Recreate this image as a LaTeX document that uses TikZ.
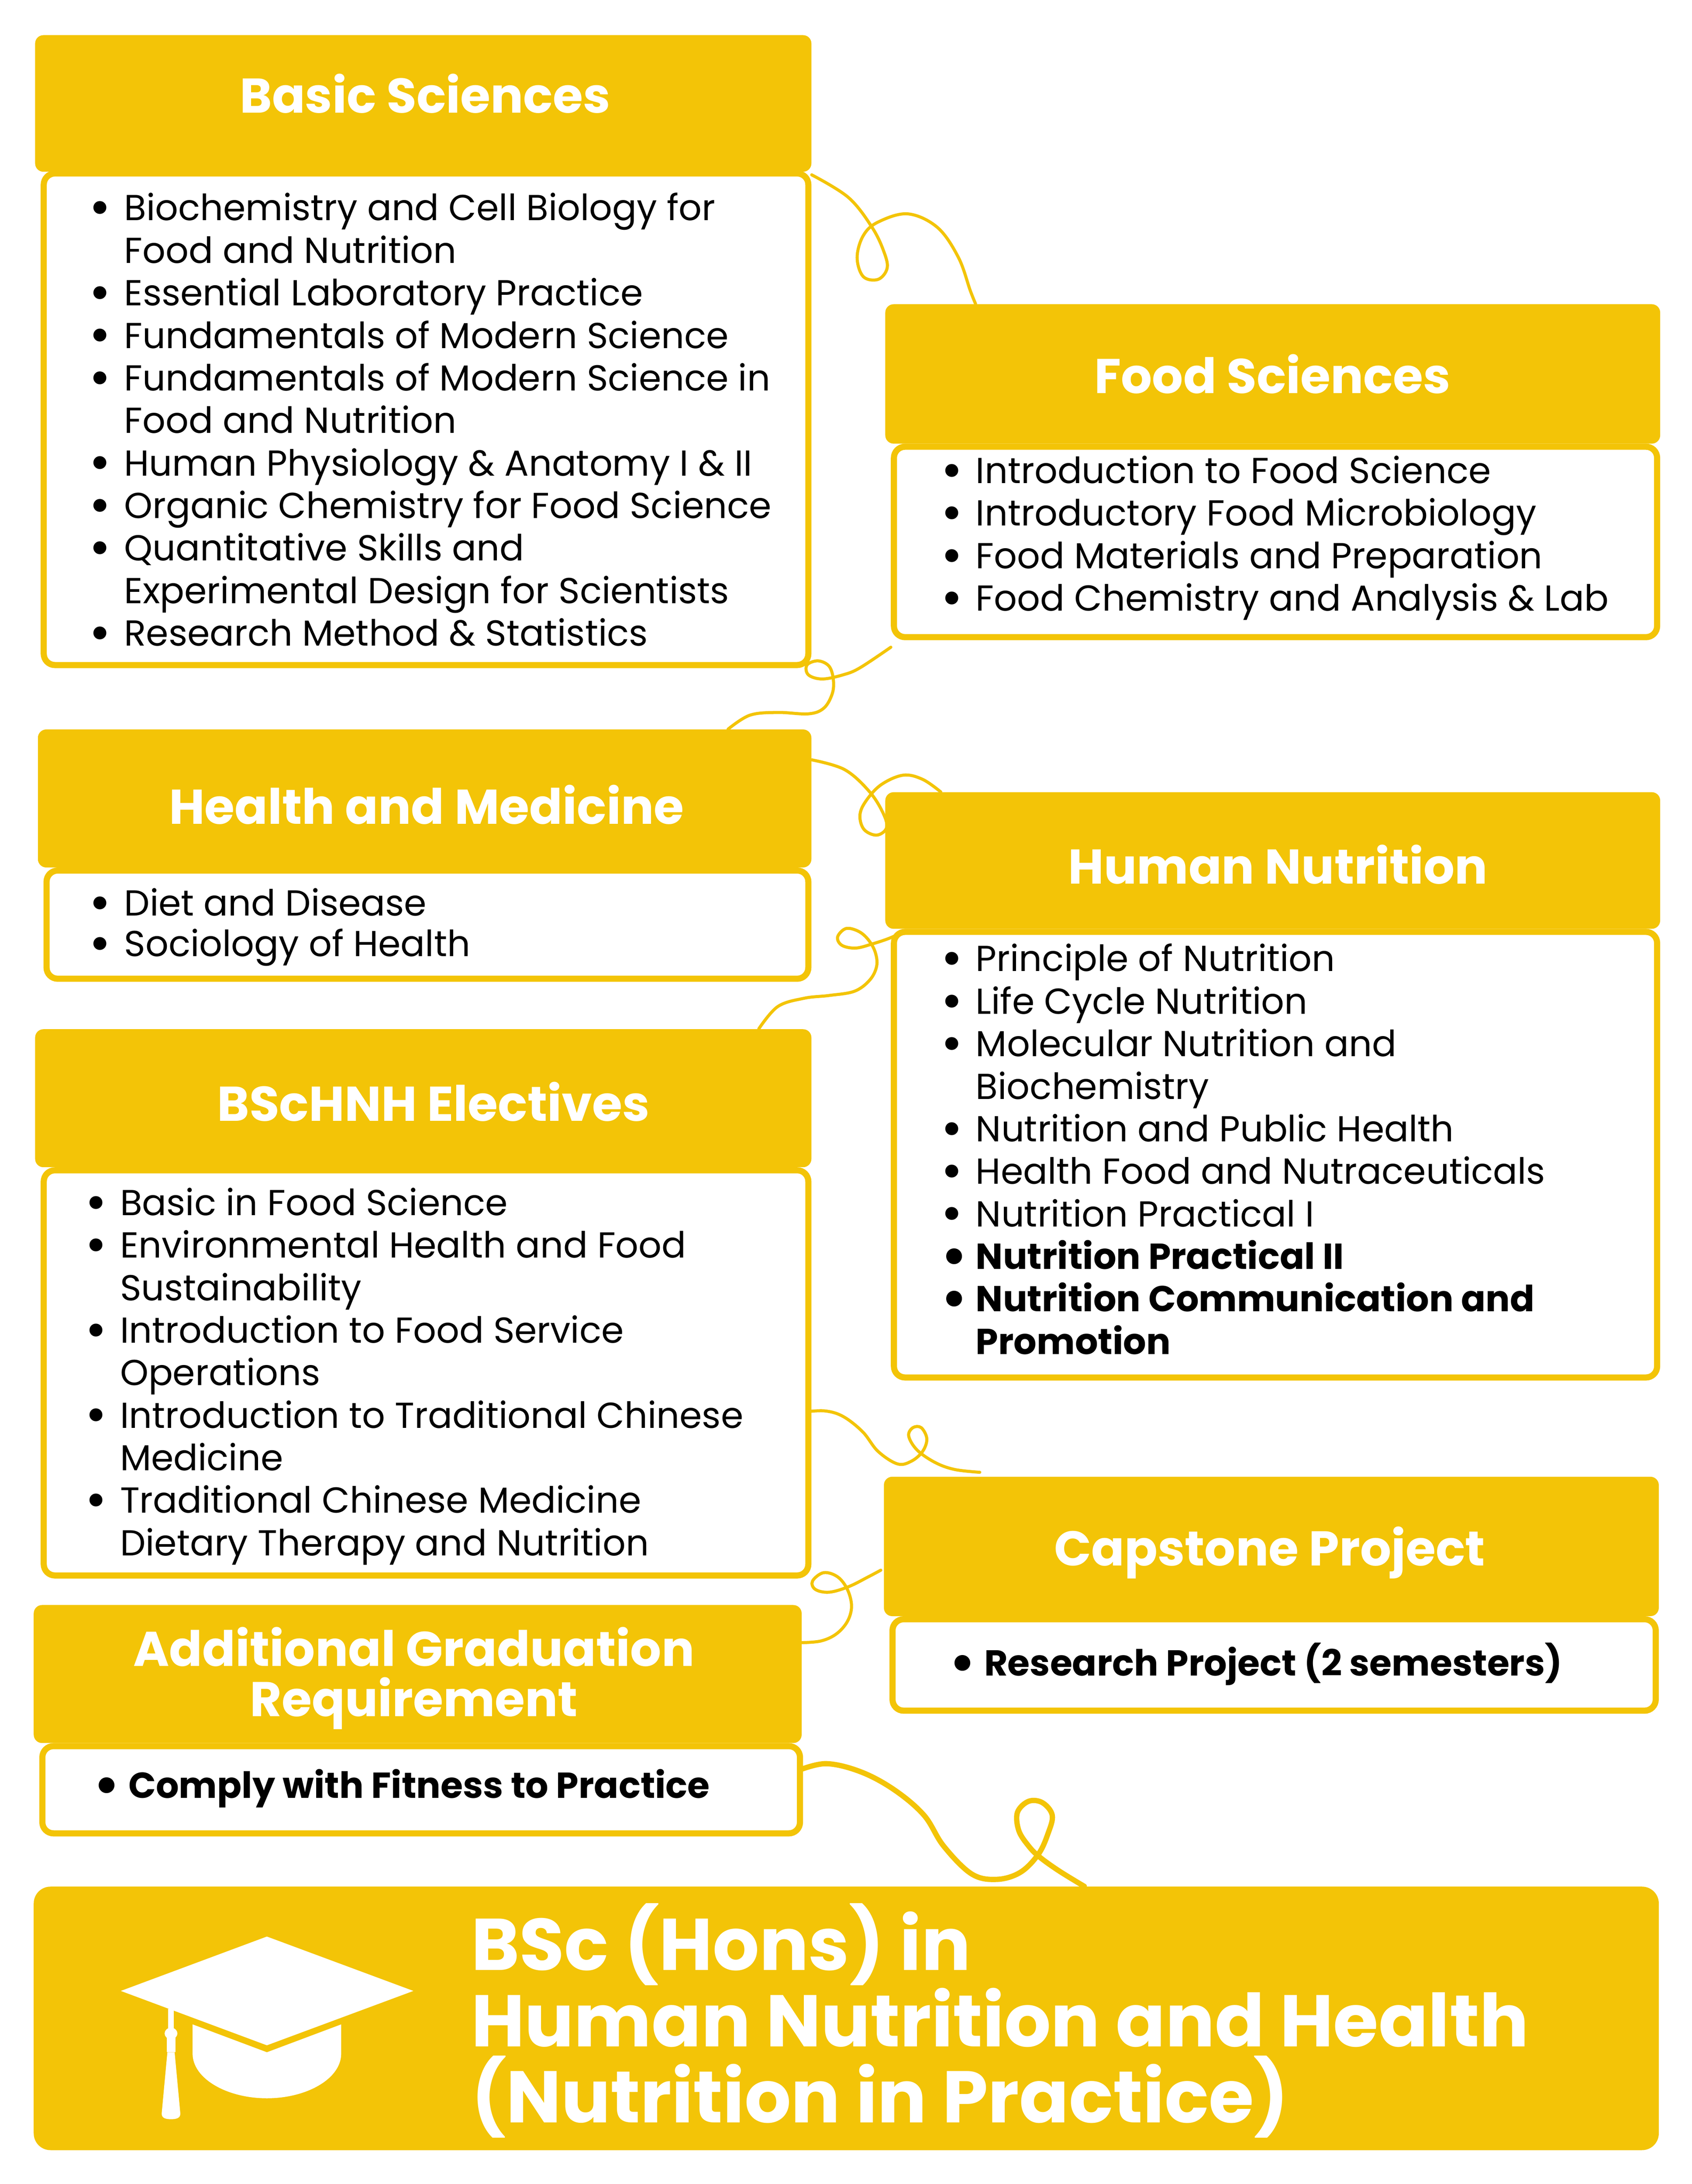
\documentclass[tikz,border=0pt]{standalone}
\usepackage{fontspec}
\usepackage{graphicx}
\setmainfont{Poppins}
\usetikzlibrary{calc}
\pgfdeclarelayer{background}
\pgfsetlayers{background,main}
\definecolor{ylw}{HTML}{F3C407}
\newcommand\bodyfont{\fontsize{25.9}{30.5}\selectfont}
\newcommand\ttlfont{\fontsize{35}{36}\selectfont\bfseries}
\newcommand\finfont{\fontsize{52.5}{54.7}\selectfont\bfseries}
\newcommand\bl{\makebox[24pt][l]{\hspace{-1pt}\raisebox{-0.13em}{\scalebox{1.45}{•}}}}
\newcommand\ind{\hspace*{24pt}}
\tikzset{
  hdr/.style={fill=ylw, rounded corners=6pt, inner sep=0pt, anchor=north west},
  bodyb/.style={draw=ylw, line width=4.4pt, fill=white, rounded corners=8pt, inner sep=0pt, anchor=north west},
  ttl/.style={text=white, font=\ttlfont, inner sep=0pt, anchor=base},
  lst/.style={anchor=north west, inner sep=0pt, align=left, font=\bodyfont, text=black},
  conn/.style={draw=ylw, line width=2.2pt, line cap=round, line join=round},
  connthick/.style={draw=ylw, line width=3.8pt, line cap=round, line join=round},
}
\begin{document}
\begin{tikzpicture}[x=1pt,y=-1pt]
\useasboundingbox (0,0) rectangle (1214,1566.5);

% ---------- Basic Sciences
\node[bodyb, minimum width=548.6pt, minimum height=352.6pt] (bsb) at (29.2,122.2) {};
\node[hdr, minimum width=557pt, minimum height=98pt] (bsh) at (25,25) {};
\node[ttl] (bst) at (305,81) {Basic Sciences};
\node[lst] (bsl) at (65,136.65) {\strut\bl Biochemistry and Cell Biology for\\
\ind Food and Nutrition\\
\bl Essential Laboratory Practice\\
\bl Fundamentals of Modern Science\\
\bl Fundamentals of Modern Science in\\
\ind Food and Nutrition\\
\bl Human Physiology \& Anatomy I \& II\\
\bl Organic Chemistry for Food Science\\
\bl Quantitative Skills and\\
\ind Experimental Design for Scientists\\
\bl Research Method \& Statistics};

% ---------- Food Sciences
\node[bodyb, minimum width=547.6pt, minimum height=136.6pt] (fsb) at (639.2,318.2) {};
\node[hdr, minimum width=556pt, minimum height=100pt] (fsh) at (635,218) {};
\node[ttl] (fst) at (913,282) {Food Sciences};
\node[lst] (fsl) at (676,325.15) {\strut\bl Introduction to Food Science\\
\bl Introductory Food Microbiology\\
\bl Food Materials and Preparation\\
\bl Food Chemistry and Analysis \& Lab};

% ---------- Health and Medicine
\node[bodyb, minimum width=546.6pt, minimum height=77.6pt] (hmb) at (31.2,622.2) {};
\node[hdr, minimum width=555pt, minimum height=99pt] (hmh) at (27,523) {};
\node[ttl] (hmt) at (306,591) {Health and Medicine};
\node[lst, font=\fontsize{25.9}{28}\selectfont] (hml) at (65,636.9) {\strut\bl Diet and Disease\\
\bl Sociology of Health};

% ---------- Human Nutrition
\node[bodyb, minimum width=547.6pt, minimum height=319.6pt] (hnb) at (639.2,666.2) {};
\node[hdr, minimum width=556pt, minimum height=98pt] (hnh) at (635,568) {};
\node[ttl] (hnt) at (917,634) {Human Nutrition};
\node[lst] (hnl) at (676,675.2) {\strut\bl Principle of Nutrition\\
\bl Life Cycle Nutrition\\
\bl Molecular Nutrition and\\
\ind Biochemistry\\
\bl Nutrition and Public Health\\
\bl Health Food and Nutraceuticals\\
\bl Nutrition Practical I\\
\textbf{\bl Nutrition Practical II}\\
\textbf{\bl Nutrition Communication and}\\
\textbf{\ind Promotion}};

% ---------- BScHNH Electives
\node[bodyb, minimum width=548.6pt, minimum height=290.6pt] (elb) at (29.2,837.2) {};
\node[hdr, minimum width=557pt, minimum height=99pt] (elh) at (25,738) {};
\node[ttl] (elt) at (311,804) {BScHNH Electives};
\node[lst] (ell) at (62,850.15) {\strut\bl Basic in Food Science\\
\bl Environmental Health and Food\\
\ind Sustainability\\
\bl Introduction to Food Service\\
\ind Operations\\
\bl Introduction to Traditional Chinese\\
\ind Medicine\\
\bl Traditional Chinese Medicine\\
\ind Dietary Therapy and Nutrition};

% ---------- Capstone Project
\node[bodyb, minimum width=547.6pt, minimum height=65.6pt] (cpb) at (638.2,1159.2) {};
\node[hdr, minimum width=556pt, minimum height=100pt] (cph) at (634,1059) {};
\node[ttl] (cpt) at (911,1123) {Capstone Project};
\node[lst] (cpl) at (682,1178.15) {\strut\textbf{\bl Research Project (2 semesters)}};

% ---------- Additional Graduation Requirement
\node[bodyb, minimum width=543.6pt, minimum height=62.6pt] (agb) at (28.2,1250.2) {};
\node[hdr, minimum width=551pt, minimum height=99pt] (agh) at (24,1151) {};
\node[ttl] (agt) at (297,1195) {Additional Graduation};
\node[ttl] (agt2) at (297,1231) {Requirement};
\node[lst] (agl) at (68,1268.15) {\strut\textbf{\bl Comply with Fitness to Practice}};

% ---------- Final degree box
\node[hdr, rounded corners=12pt, minimum width=1166pt, minimum height=189pt] (fin) at (24,1353) {};
\node[anchor=north west, inner sep=0pt, align=left, font=\finfont, text=white] (fint) at (338,1365)
  {\rule{0pt}{45pt}BSc (Hons) in\\Human Nutrition and Health\\(Nutrition in Practice)};

% graduation cap icon
\fill[white] (191.5,1389) -- (296.6,1428) -- (191.5,1467) -- (86.7,1428) -- cycle;
\fill[white] (138.2,1452) -- (191.5,1472) -- (244.8,1452) -- (244.8,1473)
  .. controls (244.8,1491) and (220,1505) .. (191.5,1505)
  .. controls (163,1505) and (138.2,1491) .. (138.2,1473) -- cycle;
\fill[white] (120.7,1441) rectangle (124.7,1456);
\fill[white] (122.7,1458.5) ellipse [x radius=4.6, y radius=4.1];
\fill[white] (119.6,1461) rectangle (125.8,1472);
\fill[white] (120.1,1472) -- (125.3,1472) -- (129.4,1516)
  .. controls (129.4,1519.5) and (126,1520) .. (122.7,1520)
  .. controls (119.4,1520) and (116,1519.5) .. (116,1516) -- cycle;

% ---------- connectors
\coordinate (a1) at ($(bsh.south east)+(0,2)$);
\coordinate (a2) at ($(fsh.north west)+(65,0)$);
\coordinate (b1) at ($(fsb.south west)+(0,5)$);
\coordinate (b2) at ($(hmh.north east)+(-60,0)$);
\coordinate (c1) at ($(hmh.north east)+(0,22)$);
\coordinate (c2) at ($(hnh.north west)+(40,0)$);
\coordinate (d1) at ($(hnh.south west)+(13,2)$);
\coordinate (d2) at ($(elh.north east)+(-38,0)$);
\coordinate (e1) at ($(elb.east)+(-5,28)$);
\coordinate (e2) at ($(cph.north west)+(69,-3)$);
\coordinate (f1) at ($(cph.west)+(-2,17)$);
\coordinate (f2) at ($(agh.east)+(0,-22.5)$);
\coordinate (g1) at ($(agb.east)+(-3,-14)$);
\coordinate (g2) at ($(fin.north west)+(754,0)$);

\begin{pgfonlayer}{background}
\draw[conn] plot[smooth, tension=0.6] coordinates {(a1) (608.7,141.6) (625.8,163.2) (634.3,180.8)
  (636.5,192.5) (630,200.4) (619.4,198.4) (615,184.7) (619.4,169) (630,159.3) (651.4,153.4)
  (672.7,163.2) (687.7,184.7) (696.1,208.2) (a2)};
\draw[conn] plot[smooth, tension=0.6] coordinates {(b1) (617,479) (605,484) (590,487) (580,484)
  (579,477) (587,474) (595,478) (598,488) (597,498) (591,508) (580,512) (558,511) (538,513) (b2)};
\draw[conn] plot[smooth, tension=0.6] coordinates {(c1) (606,552) (624,568) (634,584) (636,594)
  (629,599) (620,595) (617,585) (621,575) (632,563) (648,556) (662,559) (c2)};
\draw[conn] plot[smooth, tension=0.6] coordinates {(d1) (638,673) (626,677) (614,680) (604,678)
  (601,672) (607,666) (616,668) (623,674) (628,683) (629,693) (624,703) (613,711) (595,714)
  (577,716) (558,722) (d2)};
\draw[conn] plot[smooth, tension=0.6] coordinates {(e1) (592,1012) (605,1016) (619,1027)
  (630,1041) (644,1050) (654,1048) (662,1041) (665,1032) (661,1024) (655,1024) (652,1030)
  (658,1040) (671,1049) (685,1054) (e2)};
\draw[conn] plot[smooth, tension=0.6] coordinates {(f1) (623,1131) (609,1138) (595,1142)
  (585,1140) (583,1134) (591,1128) (601,1131) (608,1140) (611,1152) (608,1163) (600,1172)
  (589,1177) (f2)};
\draw[connthick] plot[smooth, tension=0.6] coordinates {(g1) (593,1265) (618,1271) (642,1284)
  (663,1302) (677,1324) (697,1344) (715,1348) (732,1343) (745,1330) (752,1315) (755,1302)
  (748,1293) (738,1292) (730,1300) (731,1313) (738,1324) (746,1332) (760,1342) (g2)};
\end{pgfonlayer}
\end{tikzpicture}
\end{document}
